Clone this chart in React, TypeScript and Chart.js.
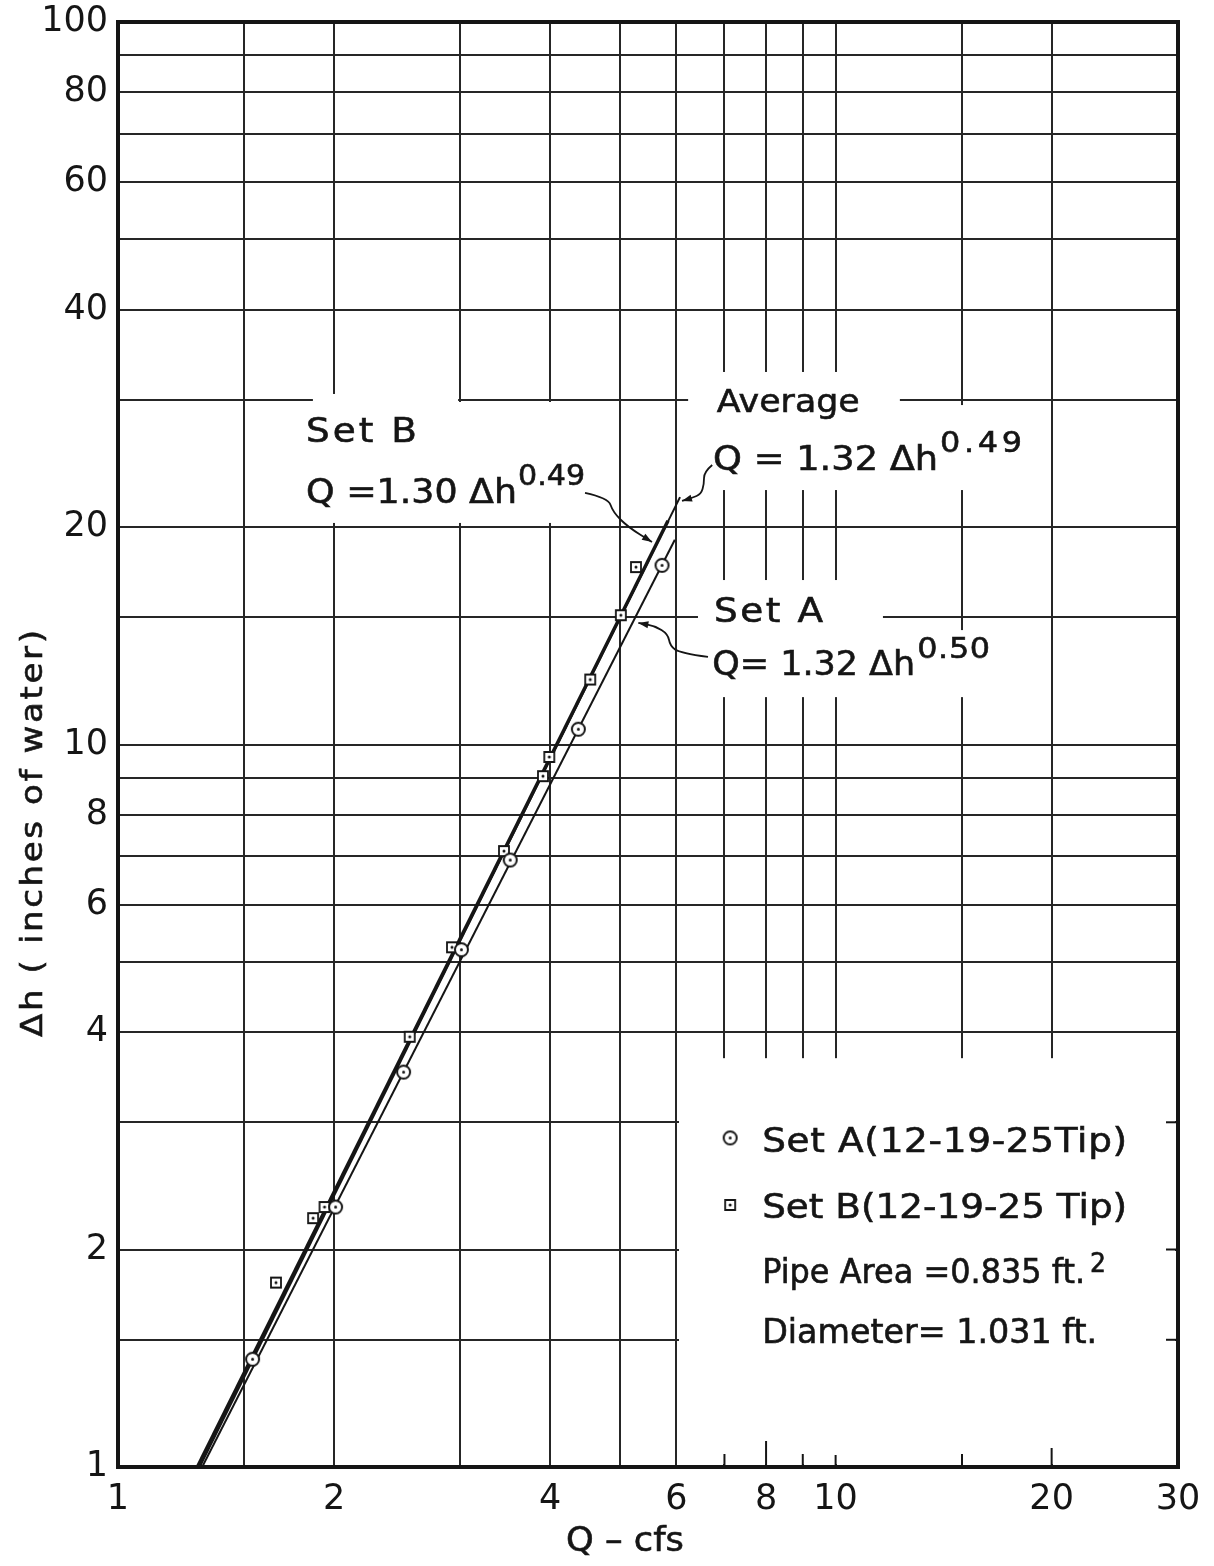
import React, { useEffect, useRef } from 'react';
import { Chart, registerables } from 'chart.js';

Chart.register(...registerables);

const FONT = '"DejaVu Sans", "Liberation Sans", sans-serif';
const INK = '#151515';

// ---------- axes ----------
const X_GRID = [1, 1.5, 2, 3, 4, 5, 6, 7, 8, 9, 10, 15, 20, 30];
const X_LABELS = [1, 2, 4, 6, 8, 10, 20, 30];
const Y_GRID = [1, 1.5, 2, 3, 4, 5, 6, 7, 8, 9, 10, 15, 20, 30, 40, 50, 60, 70, 80, 90, 100];
const Y_LABELS = [1, 2, 4, 6, 8, 10, 20, 40, 60, 80, 100];

// ---------- measured points (Q cfs, Δh inches of water) ----------
const SET_A_Q = [1.54, 2.01, 2.5, 3.01, 3.52, 4.38, 5.73];
const SET_A_DH = [1.41, 2.29, 3.52, 5.2, 6.92, 10.5, 17.7];
const SET_B_Q = [1.66, 1.87, 1.94, 2.55, 2.92, 3.45, 3.91, 3.99, 4.55, 5.02, 5.27];
const SET_B_DH = [1.8, 2.21, 2.29, 3.94, 5.24, 7.12, 9.04, 9.61, 12.3, 15.1, 17.6];

// ---------- fitted lines (end points) ----------
const FIT_A_Q = [1.31, 5.97];
const FIT_A_DH = [1, 19.2];
const FIT_B_Q = [1.29, 5.84];
const FIT_B_DH = [1, 20.4];
const FIT_AVG_Q = [1.3, 6.07];
const FIT_AVG_DH = [1, 22.0];

// ---------- annotations (anchored in data space: Q at left edge, Δh at baseline) ----------
// [text, Q, Δh, fontSize, targetWidthPx]
const NOTE_TEXTS: [string, number, number, number, number][] = [
  ['Set B', 1.828, 26.2, 34, 111],
  ['Q =1.30 Δh', 1.828, 21.6, 34, 211],
  ['0.49', 3.61, 22.87, 28, 67],
  ['Average', 6.83, 28.86, 32, 143],
  ['Q = 1.32 Δh', 6.75, 23.99, 34, 225],
  ['0.49', 13.98, 25.4, 29, 82],
  ['Set A', 6.77, 14.78, 34, 109],
  ['Q= 1.32 Δh', 6.73, 12.48, 34, 203],
  ['0.50', 12.99, 13.17, 29, 73],
];

// leader curves [Q, Δh] ... last point carries the arrow head
const LEADER_SET_B = [[4.475, 22.29], [4.82, 21.94], [4.895, 20.98], [5.136, 20.0], [5.548, 19.07]];
const LEADER_AVG = [[6.73, 24.37], [6.556, 23.84], [6.556, 22.94], [6.494, 22.21], [6.31, 21.94], [6.109, 21.73]];
const LEADER_SET_A = [[6.64, 13.22], [6.07, 13.39], [5.88, 13.69], [5.84, 14.22], [5.6, 14.59], [5.31, 14.73]];

// regions where the grid is blanked behind lettering [Q1, Q2, Δh1, Δh2]
const CLEAR_BOXES = [
  [1.793, 4.772, 20.26, 29.79],
  [1.869, 2.978, 26.4, 30.56],
  [6.23, 12.29, 27.69, 32.78],
  [6.47, 18.96, 22.5, 29.5],
  [6.43, 11.64, 13.95, 16.89],
  [6.43, 16.95, 11.63, 14.4],
  [6.05, 30, 1, 3.68],
];

// short stubs kept on the frame inside the legend area
const LEGEND_RIGHT_TICKS = [1.5, 2, 3];
const LEGEND_BOTTOM_TICKS = [7, 8, 9, 10, 15, 20];
const LEGEND_BOTTOM_TICK_LEN = [13, 26, 13, 12, 13, 19];

// legend
const LEGEND_MARK_Q = 7.13;
const LEGEND_MARK_DH = [2.854, 2.305];
const LEGEND_TEXTS: [string, number, number, number, number][] = [
  ['Set A(12-19-25Tip)', 7.9, 2.729, 34, 365],
  ['Set B(12-19-25 Tip)', 7.9, 2.211, 34, 365],
  ['Pipe Area =0.835 ft.', 7.9, 1.798, 33, 323],
  ['2', 22.62, 1.862, 27, 16],
  ['Diameter= 1.031 ft.', 7.9, 1.484, 33, 335],
];

const X_TITLE = 'Q – cfs';
const Y_TITLE = 'Δh ( inches of water)';

const zip = (qs: number[], dhs: number[]) => qs.map((q, i) => ({ x: q, y: dhs[i] }));

function makeMarker(kind: 'circle' | 'square', size: number, lw: number): HTMLCanvasElement {
  const pad = Math.ceil(lw) + 1;
  const dim = Math.ceil(size + pad * 2);
  const c = document.createElement('canvas');
  c.width = dim;
  c.height = dim;
  const g = c.getContext('2d')!;
  const m = dim / 2;
  g.fillStyle = '#fff';
  g.strokeStyle = INK;
  g.lineWidth = lw;
  g.beginPath();
  if (kind === 'circle') g.arc(m, m, size / 2, 0, Math.PI * 2);
  else g.rect(m - size / 2, m - size / 2, size, size);
  g.fill();
  g.stroke();
  g.fillStyle = INK;
  g.beginPath();
  g.arc(m, m, 1.5, 0, Math.PI * 2);
  g.fill();
  return c;
}

// draw text so that it spans a target width: partly by widening the glyphs
// (lettering-guide look), the rest by letter spacing
function drawFitted(ctx: any, str: string, x: number, y: number, size: number, width: number) {
  ctx.save();
  ctx.font = `${size}px ${FONT}`;
  ctx.letterSpacing = '0px';
  const m = ctx.measureText(str).width;
  let sx = Math.min(1.1, Math.max(0.92, width / m));
  const rest = width / sx - m;
  const n = Math.max(1, str.length - 1);
  const ls = Math.max(-2, rest / n);
  ctx.translate(x, y);
  ctx.scale(sx, 1);
  ctx.letterSpacing = `${ls}px`;
  ctx.fillText(str, 0, 0);
  ctx.lineWidth = 0.6;
  ctx.strokeStyle = ctx.fillStyle;
  ctx.strokeText(str, 0, 0);
  ctx.restore();
}

function drawLeader(ctx: any, pts: number[][]) {
  if (pts.length < 2) return;
  ctx.beginPath();
  ctx.moveTo(pts[0][0], pts[0][1]);
  for (let i = 1; i < pts.length - 1; i++) {
    const mx = (pts[i][0] + pts[i + 1][0]) / 2;
    const my = (pts[i][1] + pts[i + 1][1]) / 2;
    ctx.quadraticCurveTo(pts[i][0], pts[i][1], mx, my);
  }
  const last = pts[pts.length - 1];
  const prev = pts[pts.length - 2];
  ctx.lineTo(last[0], last[1]);
  ctx.stroke();
  const ang = Math.atan2(last[1] - prev[1], last[0] - prev[0]);
  const L = 10, W = 3.5;
  ctx.beginPath();
  ctx.moveTo(last[0], last[1]);
  ctx.lineTo(last[0] - L * Math.cos(ang) + W * Math.sin(ang), last[1] - L * Math.sin(ang) - W * Math.cos(ang));
  ctx.lineTo(last[0] - L * Math.cos(ang) - W * Math.sin(ang), last[1] - L * Math.sin(ang) + W * Math.cos(ang));
  ctx.closePath();
  ctx.fill();
}

export default function App() {
  const ref = useRef<HTMLCanvasElement | null>(null);

  useEffect(() => {
    document.body.style.margin = '0';
    const canvas = ref.current;
    if (!canvas) return;

    const circle = makeMarker('circle', 13, 2);
    const square = makeMarker('square', 10, 1.8);

    const overlay = {
      id: 'overlay',
      beforeDatasetsDraw(chart: any) {
        const { ctx, chartArea: a, scales } = chart;
        const X = (q: number) => scales.x.getPixelForValue(q);
        const Y = (d: number) => scales.y.getPixelForValue(d);
        ctx.save();
        ctx.beginPath();
        ctx.rect(a.left + 3, a.top + 3, a.right - a.left - 6, a.bottom - a.top - 6);
        ctx.clip();
        ctx.fillStyle = '#fff';
        for (const [q1, q2, d1, d2] of CLEAR_BOXES) {
          const x1 = X(q1), x2 = X(q2), y1 = Y(d1), y2 = Y(d2);
          ctx.fillRect(Math.min(x1, x2), Math.min(y1, y2), Math.abs(x2 - x1), Math.abs(y2 - y1));
        }
        ctx.restore();

        ctx.save();
        ctx.strokeStyle = INK;
        ctx.lineWidth = 2;
        for (const d of LEGEND_RIGHT_TICKS) {
          const y = Y(d);
          ctx.beginPath();
          ctx.moveTo(a.right, y);
          ctx.lineTo(a.right - 12, y);
          ctx.stroke();
        }
        LEGEND_BOTTOM_TICKS.forEach((q, i) => {
          const x = X(q);
          ctx.beginPath();
          ctx.moveTo(x, a.bottom);
          ctx.lineTo(x, a.bottom - LEGEND_BOTTOM_TICK_LEN[i]);
          ctx.stroke();
        });
        ctx.lineWidth = 4;
        ctx.strokeRect(a.left, a.top, a.right - a.left, a.bottom - a.top);
        ctx.restore();
      },
      afterDatasetsDraw(chart: any) {
        const { ctx, scales } = chart;
        const X = (q: number) => scales.x.getPixelForValue(q);
        const Y = (d: number) => scales.y.getPixelForValue(d);
        ctx.save();
        ctx.fillStyle = INK;
        ctx.strokeStyle = INK;
        ctx.textAlign = 'left';
        ctx.textBaseline = 'alphabetic';
        for (const [t, q, d, s, w] of NOTE_TEXTS) drawFitted(ctx, t, X(q), Y(d), s, w);
        for (const [t, q, d, s, w] of LEGEND_TEXTS) drawFitted(ctx, t, X(q), Y(d), s, w);

        ctx.lineWidth = 1.8;
        for (const leader of [LEADER_SET_B, LEADER_AVG, LEADER_SET_A]) {
          drawLeader(ctx, leader.map(([q, d]) => [X(q), Y(d)]));
        }

        const mx = X(LEGEND_MARK_Q);
        ctx.drawImage(circle, mx - circle.width / 2, Y(LEGEND_MARK_DH[0]) - circle.height / 2);
        ctx.drawImage(square, mx - square.width / 2, Y(LEGEND_MARK_DH[1]) - square.height / 2);

        // axis titles
        drawFitted(ctx, X_TITLE, 566, 1551, 33, 118);
        ctx.translate(42, 1037);
        ctx.rotate(-Math.PI / 2);
        drawFitted(ctx, Y_TITLE, 0, 0, 31, 407);
        ctx.restore();
      },
    };

    const gridStyle = { color: '#262626', lineWidth: 2, drawTicks: false };
    const tickFont = { family: FONT, size: 35 };

    const chart = new Chart(canvas, {
      type: 'scatter',
      data: {
        datasets: [
          {
            label: 'Set A(12-19-25Tip)',
            data: zip(SET_A_Q, SET_A_DH),
            pointStyle: circle as any,
            pointRadius: 7,
            showLine: false,
          },
          {
            label: 'Set B(12-19-25 Tip)',
            data: zip(SET_B_Q, SET_B_DH),
            pointStyle: square as any,
            pointRadius: 6,
            showLine: false,
          },
          {
            label: 'Set A  Q = 1.32 Δh^0.50',
            data: zip(FIT_A_Q, FIT_A_DH),
            showLine: true,
            borderColor: INK,
            borderWidth: 2,
            pointRadius: 0,
          },
          {
            label: 'Set B  Q = 1.30 Δh^0.49',
            data: zip(FIT_B_Q, FIT_B_DH),
            showLine: true,
            borderColor: INK,
            borderWidth: 3.5,
            pointRadius: 0,
          },
          {
            label: 'Average  Q = 1.32 Δh^0.49',
            data: zip(FIT_AVG_Q, FIT_AVG_DH),
            showLine: true,
            borderColor: INK,
            borderWidth: 2,
            pointRadius: 0,
          },
        ],
      },
      options: {
        responsive: false,
        animation: false,
        devicePixelRatio: 1,
        layout: { padding: { top: 22, right: 36, left: 0, bottom: 0 } },
        plugins: { legend: { display: false }, tooltip: { enabled: false } },
        scales: {
          x: {
            type: 'logarithmic',
            min: 1,
            max: 30,
            grid: gridStyle,
            border: { display: false },
            afterBuildTicks: (s: any) => {
              s.ticks = X_GRID.map((v) => ({ value: v }));
            },
            afterFit: (s: any) => {
              s.height = 99;
              s.paddingLeft = 0;
              s.paddingRight = 0;
            },
            ticks: {
              autoSkip: false,
              maxRotation: 0,
              minRotation: 0,
              padding: 12,
              color: INK,
              font: tickFont,
              callback: (v: any) => (X_LABELS.includes(Number(v)) ? String(v) : ''),
            },
          },
          y: {
            type: 'logarithmic',
            min: 1,
            max: 100,
            grid: gridStyle,
            border: { display: false },
            afterBuildTicks: (s: any) => {
              s.ticks = Y_GRID.map((v) => ({ value: v }));
            },
            afterFit: (s: any) => {
              s.width = 118;
              s.paddingTop = 0;
              s.paddingBottom = 0;
            },
            ticks: {
              autoSkip: false,
              padding: 10,
              color: INK,
              font: tickFont,
              callback: (v: any) => (Y_LABELS.includes(Number(v)) ? String(v) : ''),
            },
          },
        },
      } as any,
      plugins: [overlay],
    });

    return () => chart.destroy();
  }, []);

  return (
    <div style={{ width: 1214, height: 1566, background: '#fff' }}>
      <canvas ref={ref} width={1214} height={1566} style={{ display: 'block' }} />
    </div>
  );
}
